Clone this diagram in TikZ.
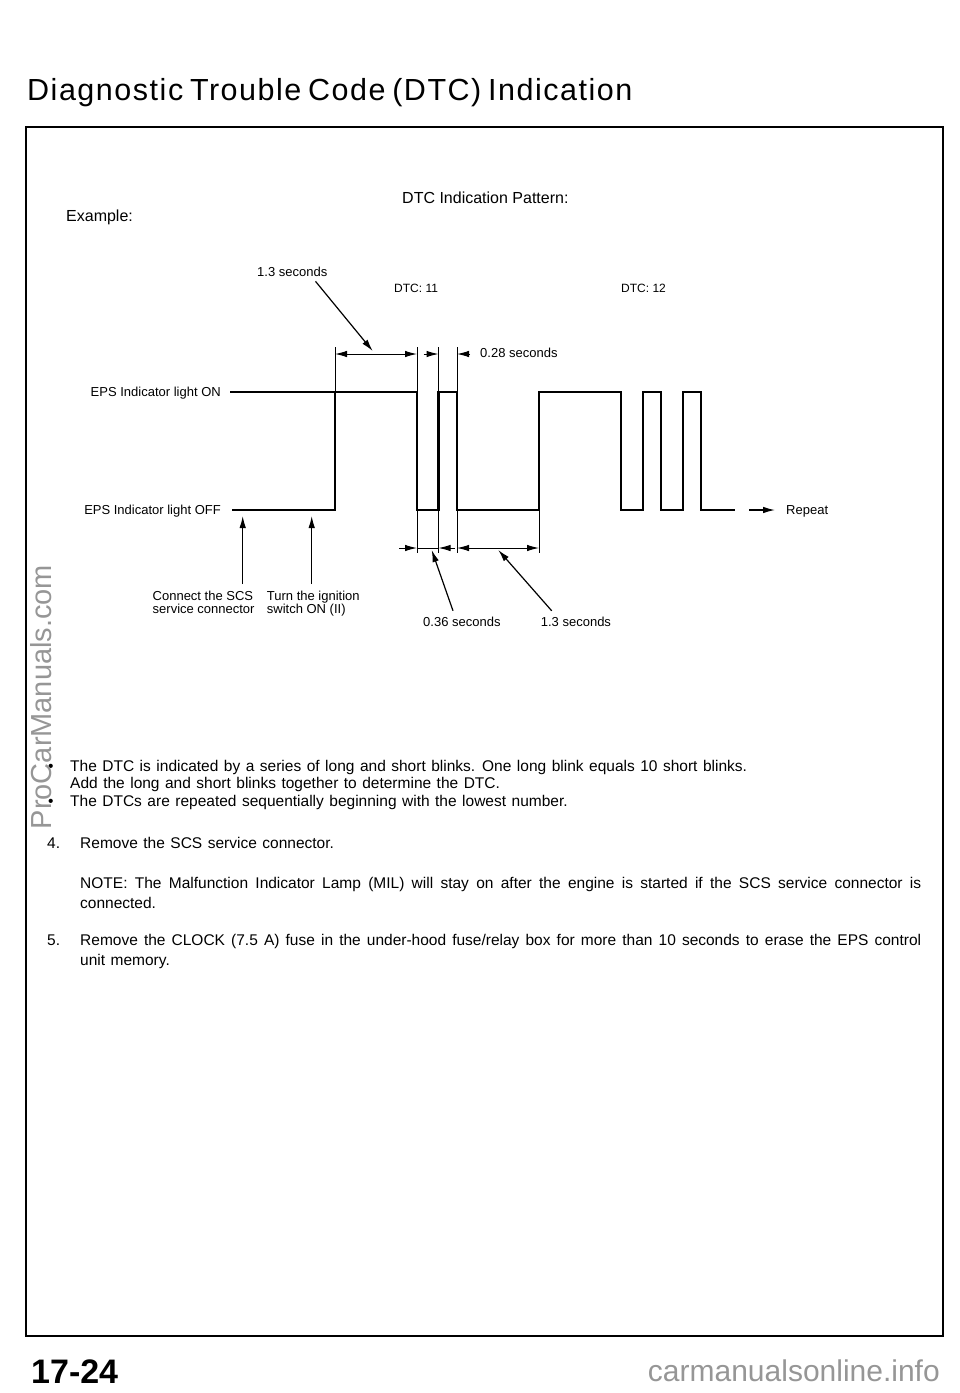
\documentclass[tikz,border=0pt]{standalone}
\usepackage{fontspec}
\setmainfont{Liberation Sans}
\newfontfamily\titlefont[LetterSpace=5]{Liberation Sans}
\usepackage{graphicx}
\usepackage{tikz}
\usetikzlibrary{arrows.meta,calc,positioning}
\definecolor{wmgray}{RGB}{150,150,150}
\newcommand{\bodyfont}{\fontsize{15.5}{19}\selectfont\spaceskip 5.5pt plus 2pt minus 1pt\relax}

\begin{document}
\begin{tikzpicture}[x=1pt, y=-1pt,
      >={Latex[length=12pt,width=6.5pt]},
      lbl/.style={inner sep=0pt, font=\fontsize{13}{13.3}\selectfont},
      dtclbl/.style={inner sep=0pt, anchor=base west, font=\fontsize{12}{12}\selectfont},
      head/.style={inner sep=0pt, anchor=base west, font=\fontsize{16}{16}\selectfont},
      body/.style={inner sep=0pt, anchor=base west, font=\bodyfont},
      wave/.style={line width=2.4pt, line join=miter},
      guide/.style={line width=1pt},
      leader/.style={line width=1.2pt, ->}
    ]
    \useasboundingbox (0,0) rectangle (960,1393);

    % -------- TITLE AND FRAME --------
    \node[anchor=base west, inner sep=0pt, font=\titlefont\fontsize{30.5}{30.5}\selectfont] (title) at (27,100)
      {\spaceskip 0.22em\relax Diagnostic Trouble Code (DTC) Indication};
    \draw[line width=2pt] (26,127) rectangle (943,1336);

    \node[head] (pattern) at (402,203) {DTC Indication Pattern:};
    \node[head] (example) at (66,221.5) {Example:};

    % -------- LABELS --------
    \node[lbl, anchor=base west] (top13) at (257,276) {1.3 seconds};
    \node[dtclbl] (dtc11) at (394,292.5) {DTC: 11};
    \node[dtclbl] (dtc12) at (621,292.5) {DTC: 12};
    \node[lbl, anchor=base west] (p28) at (480,357.7) {0.28 seconds};
    \node[lbl, anchor=base east] (lon) at (221,396.7) {EPS Indicator light ON};
    \node[lbl, anchor=base east] (loff) at (221,514) {EPS Indicator light OFF};
    \node[lbl, anchor=base west] (repeat) at (786,514.5) {Repeat};
    \node[lbl, anchor=north west, align=left] (conn) at (152.5,591) {Connect the SCS\\service connector};
    \node[lbl, anchor=north west, align=left] (turn) at (266.7,591) {Turn the ignition\\switch ON (II)};
    \node[lbl, anchor=base west] (p36) at (423,626.4) {0.36 seconds};
    \node[lbl, anchor=base west] (b13) at (540.7,626.4) {1.3 seconds};

    % -------- WAVEFORM --------
    \draw[line width=1.1pt] (230,392) -- (335,392);
    \draw[line width=1.6pt] (232,510) -- (335,510) -- (335,392);
    \draw[wave] (335,392) -- (417,392) -- (417,510) -- (438.5,510) -- (438.5,392)
      -- (457,392) -- (457,510) -- (539,510) -- (539,392) -- (621,392) -- (621,510)
      -- (643,510) -- (643,392) -- (661,392) -- (661,510) -- (683,510) -- (683,392)
      -- (701,392) -- (701,510) -- (735,510);

    % extension lines
    \foreach \ex in {335,417,438.5,457}
      \draw[guide] (\ex,347) -- (\ex,392);
    \foreach \ex in {417,438.5,457,539}
      \draw[guide] (\ex,510) -- (\ex,553);

    % -------- DIMENSIONS --------
    \coordinate (dA1) at (335,354);
    \coordinate (dA2) at (417,354);
    \coordinate (dB1) at (438.5,354);
    \coordinate (dB2) at (457,354);
    \coordinate (dC1) at (417,548);
    \coordinate (dC2) at (438.5,548);
    \coordinate (dD1) at (457,548);
    \coordinate (dD2) at (539,548);

    \draw[guide, <->] (dA1) -- (dA2);
    \draw[guide, ->] ($(dB1)+(-15,0)$) -- (dB1);
    \draw[guide, ->] ($(dB2)+(13,0)$) -- (dB2);
    \draw[guide, ->] ($(dC1)+(-18,0)$) -- (dC1);
    \draw[guide] (dC1) -- (dC2);
    \draw[guide, ->] ($(dC2)+(16,0)$) -- (dC2);
    \draw[guide, <->] (dD1) -- (dD2);

    % leaders from the labels
    \coordinate (tipA) at (372.7,351);
    \coordinate (tipC) at (431.7,550);
    \coordinate (tipD) at (498.3,550);
    \draw[leader] ($(top13.south east)+(-12,5)$) -- (tipA);
    \draw[leader] ($(p36.north west)+(30,-6)$) -- (tipC);
    \draw[leader] ($(b13.north west)+(11,-6)$) -- (tipD);

    % arrows to the switching moments
    \coordinate (tipConn) at (242.7,516);
    \coordinate (tipTurn) at (311.7,516);
    \draw[leader] ($(conn.north west)+(90.2,-7)$) -- (tipConn);
    \draw[leader] ($(turn.north west)+(45,-7)$) -- (tipTurn);

    % repeat
    \coordinate (rep0) at (749,510);
    \draw[leader, shorten >=11pt] (rep0) -- (repeat.west |- rep0);

    % -------- TEXT --------
    \node[body] (bul1) at (48,771.5) {\textbullet};
    \node[body] (txt1) at (70,771.5) {The DTC is indicated by a series of long and short blinks. One long blink equals 10 short blinks.};
    \node[body] (txt2) at (70,788.5) {Add the long and short blinks together to determine the DTC.};
    \node[body] (bul2) at (48,806.5) {\textbullet};
    \node[body] (txt3) at (70,806.5) {The DTCs are repeated sequentially beginning with the lowest number.};
    \node[body] (num4) at (47,848) {4.};
    \node[body] (step4) at (80,848) {Remove the SCS service connector.};
    \node[body] (note1) at (80,888.3) {\makebox[841pt][s]{NOTE: The Malfunction Indicator Lamp (MIL) will stay on after the engine is started if the SCS service connector is}};
    \node[body] (note2) at (80,908.3) {connected.};
    \node[body] (num5) at (47,945) {5.};
    \node[body] (step5a) at (80,945) {\makebox[841pt][s]{Remove the CLOCK (7.5 A) fuse in the under-hood fuse/relay box for more than 10 seconds to erase the EPS control}};
    \node[body] (step5b) at (80,965) {unit memory.};

    % -------- PAGE FOOT --------
    \node[anchor=base west, inner sep=0pt, font=\bfseries\fontsize{34}{34}\selectfont] (pageno) at (31,1383) {17-24};
    \node[anchor=base east, inner sep=0pt, text=wmgray, font=\fontsize{30}{30}\selectfont] (wmfoot) at (940,1381) {carmanualsonline.info};
    \node[rotate=90, inner sep=0pt, text=wmgray, font=\fontsize{29}{29}\selectfont] (wmside) at (41,697) {ProCarManuals.com};

\end{tikzpicture}
\end{document}
